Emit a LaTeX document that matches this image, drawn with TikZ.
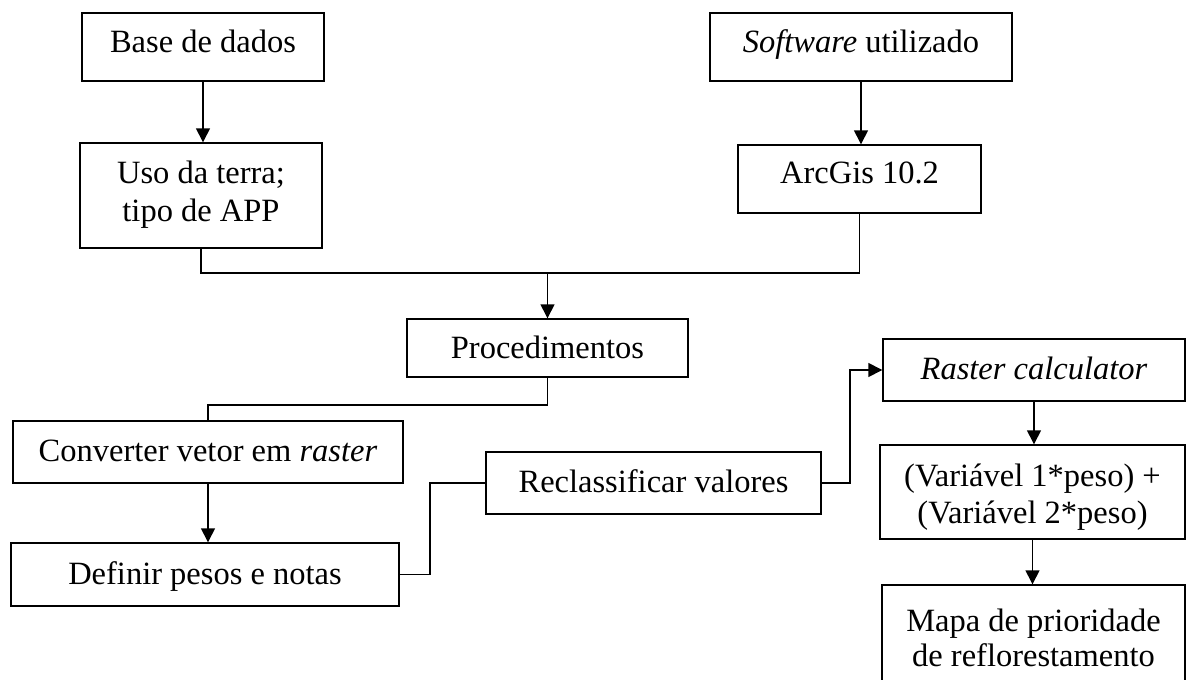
\documentclass[tikz,border=0pt]{standalone}
\usepackage{fontspec}
\setmainfont{Liberation Serif}
\usetikzlibrary{arrows.meta}
\tikzset{
  box/.style={draw=black, line width=1.4pt, rectangle, inner sep=0pt, fill=none},
  txt/.style={anchor=base, inner sep=0pt, font=\fontsize{32.5}{37}\selectfont},
  conn/.style={draw=black, line width=1.4pt},
  arr/.style={conn, -{Triangle[length=14pt,width=14pt]}}
}
\begin{document}
\begin{tikzpicture}[x=1pt,y=-1pt]
\useasboundingbox (0,0) rectangle (1187,680);
\path[clip] (0,0) rectangle (1187,680);
\fill[white] (0,0) rectangle (1187,680);
% boxes
\node[box, minimum width=242pt, minimum height=68pt] (base) at (203,47) {};
\node[box, minimum width=242pt, minimum height=105pt] (uso) at (201,195.5) {};
\node[box, minimum width=302pt, minimum height=68pt] (soft) at (861,47) {};
\node[box, minimum width=243pt, minimum height=68pt] (arc) at (859.5,179) {};
\node[box, minimum width=281pt, minimum height=58pt] (proc) at (547.5,348) {};
\node[box, minimum width=390pt, minimum height=62pt] (conv) at (208,452) {};
\node[box, minimum width=388pt, minimum height=63pt] (defi) at (205,574.5) {};
\node[box, minimum width=335pt, minimum height=62pt] (recl) at (653.5,483) {};
\node[box, minimum width=302pt, minimum height=62pt] (rast) at (1034,370) {};
\node[box, minimum width=305pt, minimum height=94pt] (vari) at (1032.5,492) {};
\node[box, minimum width=303pt, minimum height=115pt] (mapa) at (1033.5,642.5) {};
% texts
\node[txt] (baset) at (203,52) {Base de dados};
\node[txt] (softt) at (861,52) {\textit{Software} utilizado};
\node[txt] (uso1) at (201,183) {Uso da terra;};
\node[txt] (uso2) at (201,221) {tipo de APP};
\node[txt] (arct) at (859.5,183) {ArcGis 10.2};
\node[txt] (proct) at (547.5,358) {Procedimentos};
\node[txt] (convt) at (208,461) {Converter vetor em \textit{raster}};
\node[txt] (defit) at (205,584.5) {Definir pesos e notas};
\node[txt] (reclt) at (653.5,492) {Reclassificar valores};
\node[txt] (rastt) at (1034,379) {\textit{Raster calculator}};
\node[txt] (vari1) at (1032.5,486) {(Variável 1*peso) +};
\node[txt] (vari2) at (1032.5,523) {(Variável 2*peso)};
\node[txt] (mapa1) at (1033.5,631) {Mapa de prioridade};
\node[txt] (mapa2) at (1033.5,666) {de reflorestamento};
% junctions
\coordinate (j1) at (547.5,273);
\coordinate (j2) at (547.5,405);
\coordinate (j3) at (430,574.5);
\coordinate (j4) at (850,483);
% connectors
\draw[arr] (base.south) -- (base.south |- uso.north);
\draw[arr] (soft.south) -- (soft.south |- arc.north);
\draw[conn] (uso.south) |- (j1) -| (arc.south);
\draw[arr] (j1) -- (proc.north);
\draw[conn] (proc.south) -- (j2) -| (conv.north);
\draw[arr] (conv.south) -- (conv.south |- defi.north);
\draw[conn] (defi.east) -- (j3) |- (recl.west);
\draw[arr] (recl.east) -- (j4) |- (rast.west);
\draw[arr] (rast.south) -- (rast.south |- vari.north);
\draw[arr] (vari.south) -- (vari.south |- mapa.north);
\end{tikzpicture}
\end{document}
